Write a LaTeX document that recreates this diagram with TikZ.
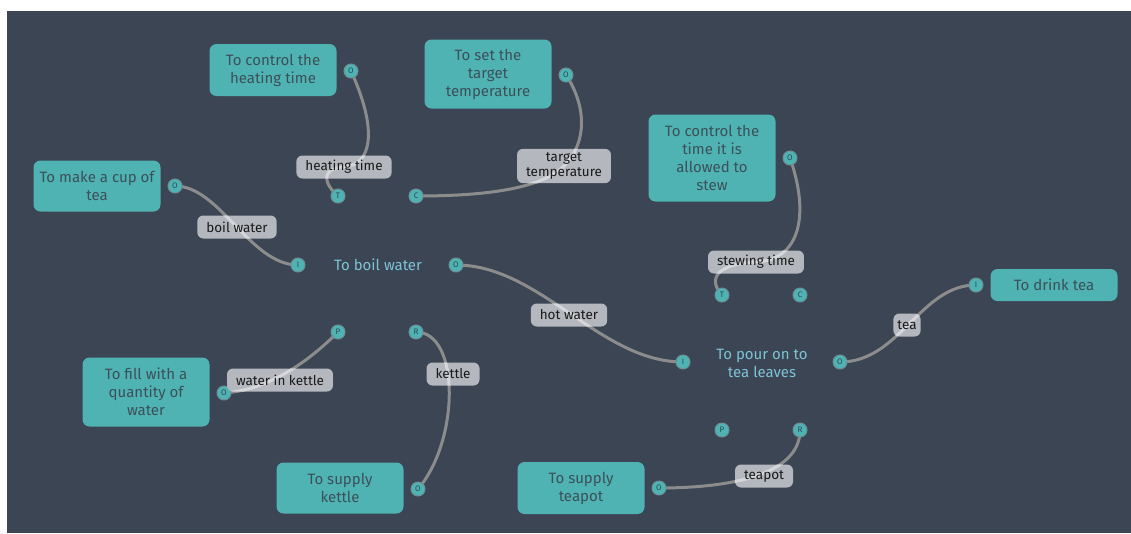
\documentclass[tikz,border=0pt]{standalone}
\usepackage{fontspec}
\setmainfont{Fira Sans}
\definecolor{canvas}{HTML}{3B4553}
\definecolor{teal}{HTML}{4FB3B3}
\definecolor{boxtext}{HTML}{3C5058}
\definecolor{proctext}{HTML}{7DC3D7}
\definecolor{wire}{HTML}{8C8C8C}
\definecolor{labelfill}{HTML}{B4B7BD}
\definecolor{labeltext}{HTML}{1A1A1A}
\definecolor{portring}{HTML}{6A8F95}
\definecolor{porttext}{HTML}{2C4A50}
\tikzset{
  actbox/.style={rectangle, rounded corners=7pt, fill=teal, text=boxtext,
    minimum width=127pt, align=center, inner sep=4pt,
    font=\fontsize{15}{18}\selectfont},
  proc/.style={text=proctext, align=center, font=\fontsize{15}{18}\selectfont},
  port/.style={circle, fill=teal, draw=portring, line width=1pt,
    minimum size=14pt, inner sep=0pt, text=porttext,
    font=\fontsize{8}{8}\selectfont},
  conn/.style={draw=wire, line width=3pt, line cap=round},
  flowlabel/.style={rectangle, rounded corners=6pt, fill=labelfill,
    text=labeltext, align=center, inner xsep=9pt, inner ysep=4pt,
    minimum height=23pt, font=\fontsize{13.5}{14.5}\selectfont},
  labelbody/.style={flowlabel, text=labelfill},
  labeltext/.style={flowlabel, fill=none},
  streak/.style={draw=white, draw opacity=0.45, line width=3pt}
}
% a flow label: its body, the connector seen through it, then its text
\newcommand{\flowlab}[5][]{%
  \node[labelbody, #1] (#2) at (#3) {#4};
  \begin{scope}
    \clip[rounded corners=6pt] (#2.south west) rectangle (#2.north east);
    \path[streak, use path=#5];
  \end{scope}
  \node[labeltext, #1] (#2-text) at (#2.center) {#4};}
\begin{document}
\begin{tikzpicture}[x=1pt,y=-1pt]
  % canvas
  \fill[white] (0,0) rectangle (1131,533);
  \fill[canvas] (7,11) rectangle (1131,533);
  \useasboundingbox (0,0) rectangle (1131,533);

  % activity boxes
  \node[actbox, minimum height=52pt] (bHeat)   at (273,70)  {To control the\\heating time};
  \node[actbox, minimum height=69pt] (bTarget) at (488,74)  {To set the\\target\\temperature};
  \node[actbox, minimum height=87pt] (bStew)   at (712,158) {To control the\\time it is\\allowed to\\stew};
  \node[actbox, minimum height=51pt] (bCup)    at (97,186)  {To make a cup of\\tea};
  \node[actbox, minimum height=32pt] (bDrink)  at (1054,285) {To drink tea};
  \node[actbox, minimum height=69pt] (bFill)   at (146,392) {To fill with a\\quantity of\\water};
  \node[actbox, minimum height=51pt] (bKettle) at (340,488) {To supply\\kettle};
  \node[actbox, minimum height=52pt] (bTeapot) at (581,488) {To supply\\teapot};

  % processes
  \node[proc] (boil) at (378,265) {To boil water};
  \node[proc] (pour) at (762,363) {To pour on to\\tea leaves};

  % port centres
  \coordinate (cHeatO)   at (351,71);
  \coordinate (cTargetO) at (566,75);
  \coordinate (cStewO)   at (790,158);
  \coordinate (cCupO)    at (175,186);
  \coordinate (cDrinkI)  at (976,285);
  \coordinate (cFillO)   at (224,393);
  \coordinate (cKettleO) at (418,489);
  \coordinate (cTeapotO) at (659,488);
  \coordinate (cBoilI) at (298,265);
  \coordinate (cBoilO) at (456,265);
  \coordinate (cBoilT) at (338,196);
  \coordinate (cBoilC) at (416,196);
  \coordinate (cBoilP) at (338,332);
  \coordinate (cBoilR) at (416,332);
  \coordinate (cPourI) at (683,362);
  \coordinate (cPourO) at (840,362);
  \coordinate (cPourT) at (722,295);
  \coordinate (cPourC) at (800,295);
  \coordinate (cPourP) at (722,430);
  \coordinate (cPourR) at (800,430);

  % label centres
  \coordinate (mHeat)   at (344,167);
  \coordinate (mTarget) at (564,166);
  \coordinate (mBoil)   at (237,227);
  \coordinate (mHot)    at (569,315);
  \coordinate (mStew)   at (756,262);
  \coordinate (mTea)    at (907,325);
  \coordinate (mWater)  at (280,380);
  \coordinate (mKettle) at (453,374);
  \coordinate (mTeapot) at (764,476);

  % connectors
  \path[conn, save path=\wHeat] (cHeatO) .. controls +(27,59) and +(28,-2) .. (mHeat)
       .. controls +(-22,1) and +(-16,-14) .. (cBoilT);
  \path[conn, save path=\wTarget] (cTargetO) .. controls +(20,30) and +(24,-24) .. (mTarget)
       .. controls +(-26,26) and +(54,0) .. (cBoilC);
  \path[conn, save path=\wBoil] (cCupO) .. controls +(45,0) and +(-48,0) .. (cBoilI);
  \path[conn, save path=\wHot] (cBoilO) .. controls +(84,0) and +(-83,0) .. (cPourI);
  \path[conn, save path=\wStew] (cStewO) .. controls +(20,57) and +(44,-2) .. (mStew)
       .. controls +(-41,2) and +(-14,-15) .. (cPourT);
  \path[conn, save path=\wTea] (cPourO) .. controls +(60,0) and +(-56,0) .. (cDrinkI);
  \path[conn, save path=\wWater] (cFillO) .. controls +(46,-3) and +(-28,28) .. (cBoilP);
  \path[conn, save path=\wKettle] (cBoilR) .. controls +(44,0) and +(42,-49) .. (cKettleO);
  \path[conn, save path=\wTeapot] (cTeapotO) .. controls +(71,0) and +(0,45) .. (cPourR);

  % ports
  \node[port] (pHeatO)   at (cHeatO)   {O};
  \node[port] (pTargetO) at (cTargetO) {O};
  \node[port] (pStewO)   at (cStewO)   {O};
  \node[port] (pCupO)    at (cCupO)    {O};
  \node[port] (pDrinkI)  at (cDrinkI)  {I};
  \node[port] (pFillO)   at (cFillO)   {O};
  \node[port] (pKettleO) at (cKettleO) {O};
  \node[port] (pTeapotO) at (cTeapotO) {O};
  \node[port] (pBoilI) at (cBoilI) {I};
  \node[port] (pBoilO) at (cBoilO) {O};
  \node[port] (pBoilT) at (cBoilT) {T};
  \node[port] (pBoilC) at (cBoilC) {C};
  \node[port] (pBoilP) at (cBoilP) {P};
  \node[port] (pBoilR) at (cBoilR) {R};
  \node[port] (pPourI) at (cPourI) {I};
  \node[port] (pPourO) at (cPourO) {O};
  \node[port] (pPourT) at (cPourT) {T};
  \node[port] (pPourC) at (cPourC) {C};
  \node[port] (pPourP) at (cPourP) {P};
  \node[port] (pPourR) at (cPourR) {R};

  % flow labels
  \flowlab{lHeat}{mHeat}{heating time}{\wHeat}
  \flowlab{lTarget}{mTarget}{target\\temperature}{\wTarget}
  \flowlab{lBoil}{mBoil}{boil water}{\wBoil}
  \flowlab{lHot}{mHot}{hot water}{\wHot}
  \flowlab{lStew}{mStew}{stewing time}{\wStew}
  \flowlab[inner xsep=4pt]{lTea}{mTea}{tea}{\wTea}
  \flowlab{lWater}{mWater}{water in kettle}{\wWater}
  \flowlab{lKettle}{mKettle}{kettle}{\wKettle}
  \flowlab{lTeapot}{mTeapot}{teapot}{\wTeapot}
\end{tikzpicture}
\end{document}
